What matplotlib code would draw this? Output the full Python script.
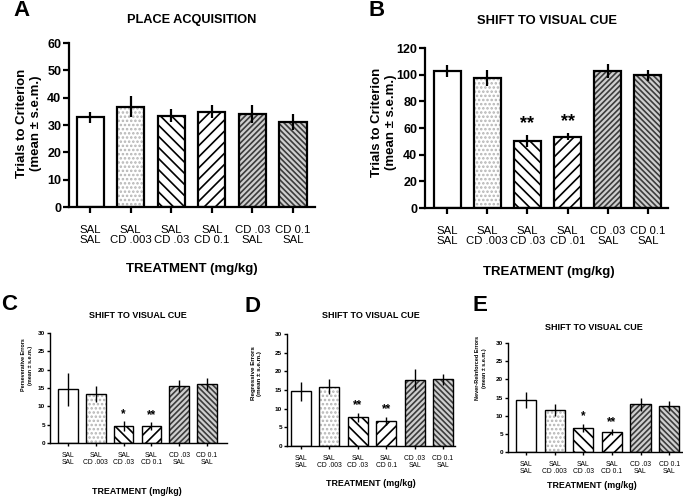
import matplotlib
matplotlib.use("Agg")
import matplotlib.pyplot as plt

plt.rcParams['font.family'] = ['Liberation Sans', 'DejaVu Sans']
plt.rcParams['hatch.linewidth'] = 1.2

W, H = 683, 497

labels = ["SAL\nSAL", "SAL\nCD .003", "SAL\nCD .03", "SAL\nCD 0.1", "CD .03\nSAL", "CD 0.1\nSAL"]
labels_b = ["SAL\nSAL", "SAL\nCD .003", "SAL\nCD .03", "SAL\nCD .01", "CD .03\nSAL", "CD 0.1\nSAL"]

acq_mean = [32.8, 36.7, 33.4, 34.9, 34.0, 31.1]
acq_sem = [2.1, 3.8, 2.3, 2.3, 3.2, 2.8]

shift_mean = [103.0, 97.8, 50.3, 53.5, 103.0, 99.5]
shift_sem = [4.5, 6.0, 4.7, 2.8, 5.3, 4.3]
shift_stars = ["", "", "**", "**", "", ""]

persev_mean = [14.7, 13.4, 4.6, 4.6, 15.6, 16.0]
persev_sem = [4.5, 2.2, 1.3, 1.1, 1.6, 1.6]
persev_stars = ["", "", "*", "**", "", ""]

regr_mean = [14.6, 15.9, 7.7, 6.8, 17.7, 17.9]
regr_sem = [2.5, 2.0, 1.2, 1.1, 2.8, 1.5]
regr_stars = ["", "", "**", "**", "", ""]

never_mean = [14.3, 11.5, 6.6, 5.4, 13.1, 12.6]
never_sem = [2.1, 1.6, 1.1, 0.8, 1.9, 1.3]
never_stars = ["", "", "*", "**", "", ""]

# fill style per bar: (facecolor, hatch, hatch colour)
styles = [("white", None, "black"),
          ("white", "....", "#b4b4b4"),
          ("white", "\\\\\\", "black"),
          ("white", "///", "black"),
          ("#cfcfcf", "//////", "#3c3c3c"),
          ("#cfcfcf", "\\\\\\\\\\\\", "#3c3c3c")]


def fig_rect(l, r, t, b):
    return [l / W, 1 - b / H, (r - l) / W, (b - t) / H]


def ftext(x, y, s, **kw):
    fig.text(x / W, 1 - y / H, s, ha='center', va='center', **kw)


def panel(rect, xlim, ymax, ystep, means, sems, xlabels, stars, big):
    ax = fig.add_axes(rect)
    x = list(range(len(means)))
    width = 0.67 if big else 0.7
    lw = 1.6 if big else 1.0
    for i in x:
        fc, hatch, hc = styles[i]
        ax.bar(i, means[i], width=width, color=fc, hatch=hatch, edgecolor=hc, linewidth=0, zorder=2)
        ax.bar(i, means[i], width=width, facecolor='none', edgecolor='black', linewidth=lw, zorder=3)
    ax.errorbar(x, means, yerr=sems, fmt='none', ecolor='black', elinewidth=lw, capsize=0, zorder=4)
    for i, s in enumerate(stars):
        if s:
            ax.annotate(s, xy=(i, means[i] + sems[i]), xytext=(0, 2 if big else 1),
                        textcoords='offset points', ha='center', va='bottom',
                        fontsize=13 if big else 8.5, fontweight='bold')
    ax.set_xlim(*xlim)
    ax.set_ylim(0, ymax)
    ax.set_yticks(range(0, ymax + 1, ystep))
    ax.set_xticks(x)
    ax.set_xticklabels(xlabels)
    for sp in ['top', 'right']:
        ax.spines[sp].set_visible(False)
    for sp in ['left', 'bottom']:
        ax.spines[sp].set_linewidth(lw)
    if big:
        ax.tick_params(axis='y', length=4, width=lw, pad=1.5, labelsize=9)
        ax.tick_params(axis='x', length=4, width=lw, pad=9, labelsize=8.2)
        ls = 1.05
    else:
        ax.tick_params(axis='y', length=2.5, width=lw, pad=1, labelsize=4.6)
        ax.tick_params(axis='x', length=2.5, width=lw, pad=4, labelsize=4.9)
        ls = 0.95
    for t in ax.get_yticklabels():
        t.set_fontweight('bold')
    for t in ax.get_xticklabels():
        t.set_linespacing(ls)
    return ax


fig = plt.figure(figsize=(W / 100, H / 100), dpi=100)

panel(fig_rect(69, 315, 43, 207), (-0.52, 5.54), 60, 10, acq_mean, acq_sem, labels, [""] * 6, True)
panel(fig_rect(425, 668, 48, 208), (-0.55, 5.5), 120, 20, shift_mean, shift_sem, labels_b, shift_stars, True)
panel(fig_rect(50, 227, 333, 443), (-0.65, 5.72), 30, 5, persev_mean, persev_sem, labels, persev_stars, False)
panel(fig_rect(287, 455, 334, 446), (-0.49, 5.42), 30, 5, regr_mean, regr_sem, labels, regr_stars, False)
panel(fig_rect(508, 682, 343, 452), (-0.63, 5.45), 30, 5, never_mean, never_sem, labels, never_stars, False)

# panel letters
for letter, lx, ly in [("A", 13, 10.5), ("B", 368, 10.5), ("C", 1, 305), ("D", 245, 306), ("E", 472, 305.5)]:
    fig.text(lx / W, 1 - ly / H, letter, ha='left', va='center', fontsize=16, fontweight='bold')

# titles
ftext(192, 19.5, "PLACE ACQUISITION", fontsize=9.2, fontweight='bold')
ftext(547, 21, "SHIFT TO VISUAL CUE", fontsize=9.3, fontweight='bold')
ftext(138, 316, "SHIFT TO VISUAL CUE", fontsize=6.5, fontweight='bold')
ftext(371, 316, "SHIFT TO VISUAL CUE", fontsize=6.5, fontweight='bold')
ftext(594, 327, "SHIFT TO VISUAL CUE", fontsize=6.5, fontweight='bold')

# x labels
ftext(192, 269, "TREATMENT (mg/kg)", fontsize=9.5, fontweight='bold')
ftext(549, 272, "TREATMENT (mg/kg)", fontsize=9.5, fontweight='bold')
ftext(137, 491, "TREATMENT (mg/kg)", fontsize=6.4, fontweight='bold')
ftext(371, 484, "TREATMENT (mg/kg)", fontsize=6.4, fontweight='bold')
ftext(592, 485, "TREATMENT (mg/kg)", fontsize=6.4, fontweight='bold')

# y labels
ftext(29, 123, "Trials to Criterion\n(mean \u00b1 s.e.m.)", fontsize=9.5, fontweight='bold', rotation=90, linespacing=1.3)
ftext(384, 122, "Trials to Criterion\n(mean \u00b1 s.e.m.)", fontsize=9.5, fontweight='bold', rotation=90, linespacing=1.3)
ftext(27, 365, "Perseverative Errors\n(mean \u00b1 s.e.m.)", fontsize=3.9, fontweight='bold',
      rotation=90, linespacing=1.35)
ftext(256, 373, "Regressive Errors\n(mean \u00b1 s.e.m.)", fontsize=4.5, fontweight='bold',
      rotation=90, linespacing=1.25)
ftext(481, 368, "Never-Reinforced Errors\n(mean \u00b1 s.e.m.)", fontsize=4.0, fontweight='bold',
      rotation=90, linespacing=1.35)

fig.savefig("out.png", dpi=100)
